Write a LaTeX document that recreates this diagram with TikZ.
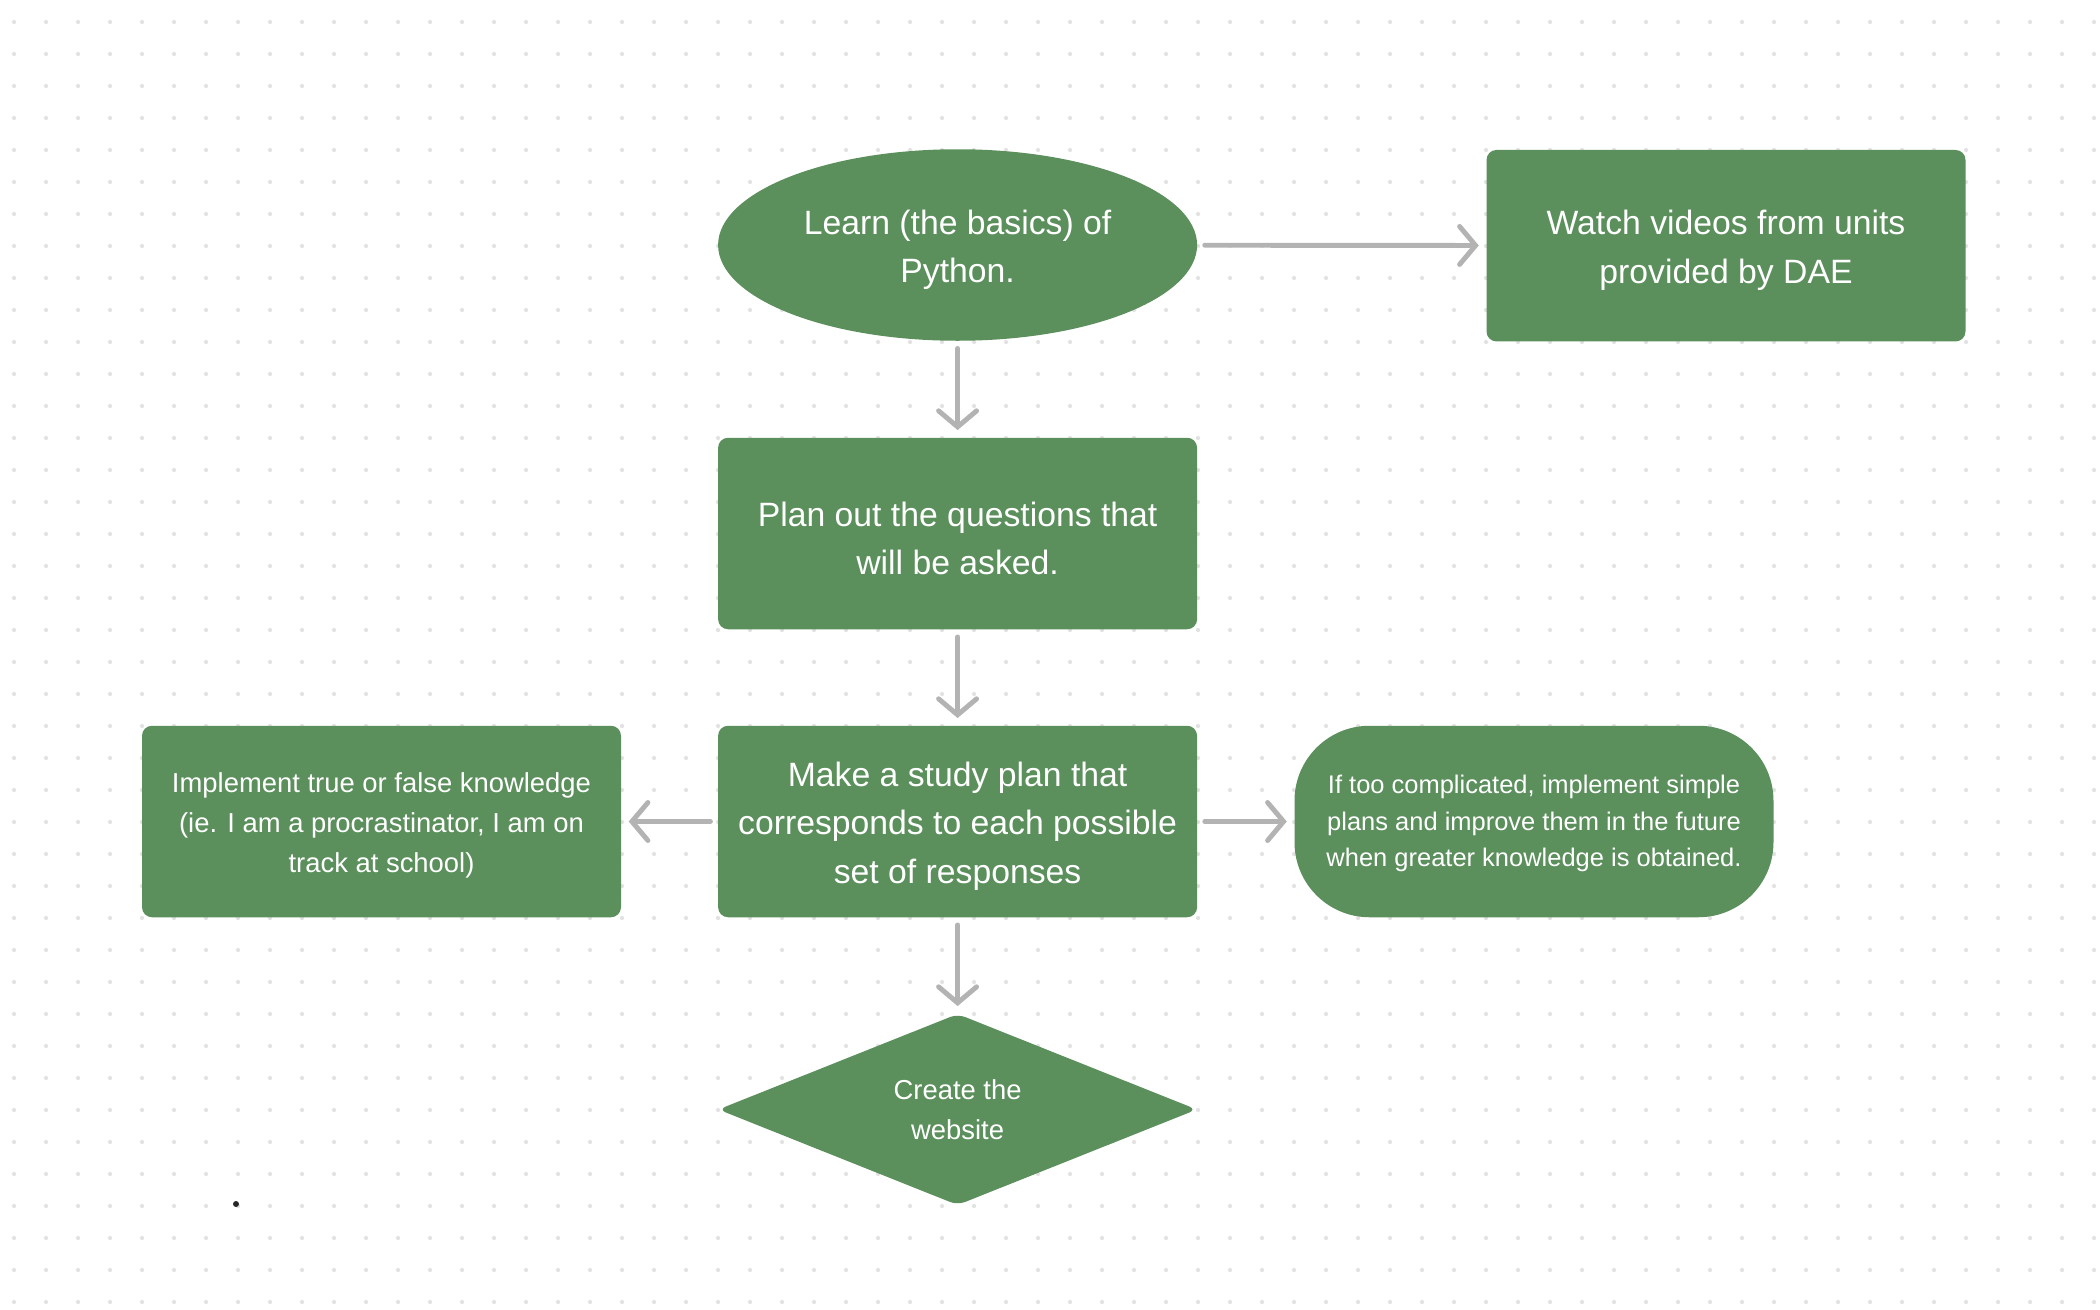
\documentclass[tikz,border=0pt]{standalone}
\usepackage{fontspec}
\setmainfont{Liberation Sans}
\usepackage{xcolor}
\usepackage{tikz}
\usetikzlibrary{arrows.meta,shapes.geometric}

\definecolor{leaf}{HTML}{5B8F5C}
\definecolor{wire}{HTML}{B3B3B3}
\definecolor{speck}{HTML}{E2E2E2}
\newcommand{\lift}[1][1em]{\rule{0pt}{#1}}

\begin{document}
\begin{tikzpicture}[
  box/.style={fill=leaf,text=white,align=center,minimum width=4.79cm,minimum height=1.915cm,inner sep=0pt,rounded corners=0.1cm,font=\fontsize{9.6}{13.7}\selectfont},
  oval/.style={box,ellipse,rounded corners=0pt},
  pill/.style={box,rounded corners=0.75cm,font=\fontsize{7.25}{10.3}\selectfont},
  gem/.style={box,diamond,rounded corners=0.08cm,aspect=2.5,font=\fontsize{7.8}{11.4}\selectfont},
  flow/.style={draw=wire,line width=1.4pt,line cap=round,shorten <=0.07cm,shorten >=0.07cm,-{Straight Barb[length=1.6mm,width=3.8mm,line cap=round]}}]
\fill[white] (0,0) rectangle (21,-13.1);
\useasboundingbox (0,0) rectangle (21,-13.1);
% dotted canvas
\foreach \i in {0,...,65}
  \foreach \j in {0,...,40}
    \fill[speck] (0.14+0.32*\i,-0.22-0.32*\j) circle (0.021);
\fill[black!85] (2.36,-12.04) circle (0.03);

  \node[oval]   (learn) at (9.576,-2.45)   {\lift Learn (the basics) of\\Python.};
  \node[box]    (watch) at (17.26,-2.457)  {\lift Watch videos from units\\provided by DAE};
  \node[box]    (plan)  at (9.576,-5.335)  {\lift Plan out the questions that\\will be asked.};
  \node[box]    (make)  at (9.576,-8.215)  {\lift Make a study plan that\\corresponds to each possible\\set of responses};
  \node[box,font=\fontsize{7.8}{11.4}\selectfont]
                (impl)  at (3.815,-8.215)  {\lift Implement true or false knowledge\\(ie. I am a procrastinator, I am on\\track at school)};
  \node[pill]   (simple) at (15.34,-8.215) {\lift[0.88em]If too complicated, implement simple\\plans and improve them in the future\\when greater knowledge is obtained.};
  \node[gem]    (site)  at (9.576,-11.095) {Create the\\website};

  \path[flow]
        (learn) edge (watch)
        (learn) edge (plan)
        (plan)  edge (make)
        (make)  edge (impl)
        (make)  edge (simple)
        (make)  edge (site);

\end{tikzpicture}
\end{document}
